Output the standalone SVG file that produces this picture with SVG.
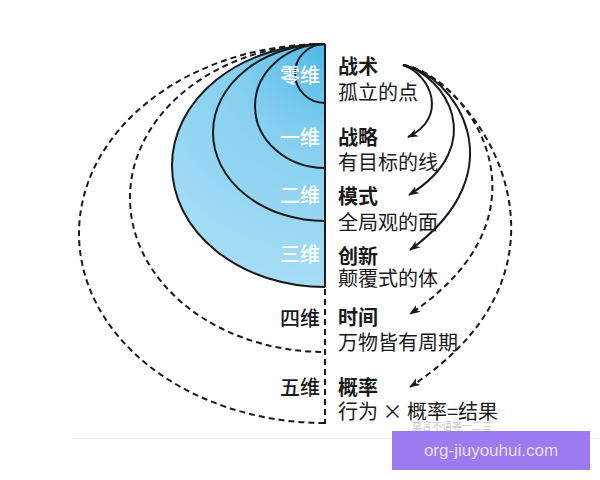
<svg xmlns="http://www.w3.org/2000/svg" width="600" height="480" viewBox="0 0 600 480">
<defs>
<radialGradient id="blue" gradientUnits="userSpaceOnUse" cx="325" cy="50" r="270">
<stop offset="0" stop-color="#52bae8"/>
<stop offset="0.35" stop-color="#86cff0"/>
<stop offset="1" stop-color="#afe0f6"/>
</radialGradient>
<marker id="ah" markerUnits="userSpaceOnUse" markerWidth="12" markerHeight="10" refX="10" refY="4" orient="auto">
<path d="M0,0 L11,4 L0,8 L3,4 z" fill="#1a1a1a"/>
</marker>
</defs>
<style>
.ln{fill:none;stroke:#1a1a1a;stroke-width:2}
.ds{fill:none;stroke:#1a1a1a;stroke-width:2;stroke-dasharray:6 4}
.in{font-family:"Noto Sans CJK SC","Noto Sans",sans-serif;font-size:20px;fill:#ffffff;text-anchor:end;font-weight:500}
.out{font-family:"Noto Sans CJK SC","Noto Sans",sans-serif;font-size:20px;fill:#1a1a1a;text-anchor:end;font-weight:500}
.t{font-family:"Noto Sans CJK SC","Noto Sans",sans-serif;font-size:20px;fill:#1a1a1a;font-weight:bold}
.d{font-family:"Noto Sans CJK SC","Noto Sans",sans-serif;font-size:20px;fill:#1a1a1a}
</style>
<rect width="600" height="480" fill="#ffffff"/>
<line x1="72" y1="438.5" x2="600" y2="438.5" stroke="#eeeeee" stroke-width="1"/>

<g id="shape">
<path d="M325,44 A153,121.5 0 0 0 325,287 Z" fill="url(#blue)"/>
<path class="ds" d="M325,44 A246,189.5 0 0 0 325,423"/>
<path class="ds" d="M325,44 A195,154 0 0 0 325,352"/>
<path class="ln" d="M325,44 A153,121.5 0 0 0 325,287"/>
<path class="ln" d="M325,44 A112,88.5 0 0 0 325,221"/>
<path class="ln" d="M325,44 A70,62 0 0 0 325,168"/>
<path class="ln" d="M325,44 A30,29.5 0 0 0 325,103"/>
<line class="ln" x1="325" y1="44" x2="325" y2="287"/>
<line class="ds" x1="325" y1="289" x2="325" y2="424"/>
</g>

<g id="dim0">
<text class="in" x="320" y="83">零维</text>
<text class="t" x="338" y="74">战术</text>
<text class="d" x="338" y="100">孤立的点</text>
</g>
<g id="dim1">
<text class="in" x="320" y="145">一维</text>
<text class="t" x="338" y="145">战略</text>
<text class="d" x="338" y="170">有目标的线</text>
</g>
<g id="dim2">
<text class="in" x="320" y="203">二维</text>
<text class="t" x="338" y="204">模式</text>
<text class="d" x="338" y="230">全局观的面</text>
</g>
<g id="dim3">
<text class="in" x="320" y="262">三维</text>
<text class="t" x="338" y="264">创新</text>
<text class="d" x="338" y="286">颠覆式的体</text>
</g>
<g id="dim4">
<text class="out" x="320" y="326">四维</text>
<text class="t" x="338" y="325">时间</text>
<text class="d" x="338" y="350">万物皆有周期</text>
</g>
<g id="dim5">
<text class="out" x="320" y="395">五维</text>
<text class="t" x="338" y="395">概率</text>
<text class="d" x="338" y="419">行为 × 概率=结果</text>
</g>

<g id="connectors">
<path class="ln" d="M403,65 C432,75 448,118 408,137" marker-end="url(#ah)"/>
<path class="ln" d="M403,65 C445,75 490,145 409,195" marker-end="url(#ah)"/>
<path class="ln" d="M403,65 C455,75 520,170 410,250" marker-end="url(#ah)"/>
<path class="ds" d="M403,65 C465,75 565,210 410,314" marker-end="url(#ah)"/>
<path class="ds" d="M403,65 C470,75 605,260 410,387" marker-end="url(#ah)"/>
</g>

<g id="watermark">
<text x="412" y="430" font-family="Noto Sans CJK SC, sans-serif" font-size="10" fill="#c8c8c8">莫言不语等一二三</text>
<rect x="392" y="431" width="198" height="39" fill="#9b7bf0"/>
<text x="491" y="456" font-family="Liberation Sans, Arial, sans-serif" font-size="17" fill="#eadfe0" text-anchor="middle">org-jiuyouhui.com</text>
</g>
</svg>
